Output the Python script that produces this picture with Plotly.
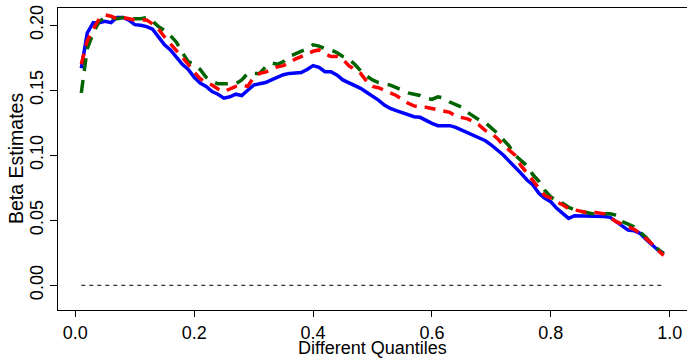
import plotly.graph_objects as go

quantiles = [round(0.01 * i, 2) for i in range(1, 100)]

blue = [0.167, 0.194, 0.202, 0.202, 0.203, 0.202, 0.206, 0.206, 0.204, 0.2005,
        0.200, 0.199, 0.197, 0.1915, 0.185, 0.181, 0.176, 0.170, 0.166, 0.160,
        0.1555, 0.153, 0.149, 0.147, 0.144, 0.145, 0.147, 0.146, 0.150, 0.154,
        0.155, 0.156, 0.158, 0.160, 0.162, 0.163, 0.163, 0.1636, 0.166, 0.169,
        0.1677, 0.1643, 0.1643, 0.1618, 0.158, 0.156, 0.154, 0.1515, 0.1485, 0.1456,
        0.1425, 0.1387, 0.136, 0.1343, 0.1328, 0.1318, 0.1297, 0.1292, 0.1266, 0.1246,
        0.1228, 0.1228, 0.1228, 0.1215, 0.1195, 0.1174, 0.1148, 0.113, 0.1112, 0.1079,
        0.1041, 0.1002, 0.0955, 0.0912, 0.0861, 0.081, 0.0772, 0.0708, 0.0669, 0.0643,
        0.0592, 0.0554, 0.0515, 0.0535, 0.0535, 0.0535, 0.0535, 0.0535, 0.053, 0.0523,
        0.049, 0.045, 0.0425, 0.042, 0.040, 0.0354, 0.031, 0.0272, 0.0246]

red = [0.170, 0.188, 0.197, 0.205, 0.208, 0.207, 0.205, 0.206, 0.205, 0.204,
       0.204, 0.204, 0.201, 0.197, 0.191, 0.186, 0.181, 0.175, 0.170, 0.164,
       0.159, 0.156, 0.154, 0.151, 0.149, 0.151, 0.153, 0.154, 0.153, 0.160,
       0.163, 0.164, 0.166, 0.168, 0.169, 0.171, 0.174, 0.176, 0.178, 0.180,
       0.181, 0.178, 0.176, 0.176, 0.174, 0.169, 0.166, 0.163, 0.157, 0.153,
       0.152, 0.150, 0.148, 0.146, 0.143, 0.140, 0.138, 0.137, 0.137, 0.136,
       0.135, 0.134, 0.133, 0.130, 0.129, 0.128, 0.126, 0.123, 0.119, 0.117,
       0.113, 0.108, 0.104, 0.100, 0.092, 0.086, 0.080, 0.074, 0.069, 0.067,
       0.064, 0.062, 0.059, 0.058, 0.057, 0.056, 0.0565, 0.056, 0.055, 0.052,
       0.049, 0.047, 0.045, 0.043, 0.040, 0.036, 0.032, 0.027, 0.023]

green = [0.148, 0.182, 0.194, 0.203, 0.206, 0.206, 0.205, 0.206, 0.205, 0.205,
         0.205, 0.206, 0.203, 0.199, 0.196, 0.192, 0.187, 0.179, 0.172, 0.170,
         0.166, 0.160, 0.157, 0.155, 0.155, 0.155, 0.155, 0.158, 0.163, 0.163,
         0.163, 0.168, 0.171, 0.170, 0.172, 0.176, 0.178, 0.180, 0.182, 0.185,
         0.184, 0.182, 0.181, 0.179, 0.176, 0.174, 0.170, 0.165, 0.161, 0.158,
         0.156, 0.155, 0.154, 0.152, 0.150, 0.148, 0.147, 0.146, 0.144, 0.143,
         0.145, 0.144, 0.141, 0.139, 0.137, 0.133, 0.130, 0.127, 0.125, 0.121,
         0.117, 0.112, 0.107, 0.100, 0.096, 0.092, 0.085, 0.080, 0.073, 0.068,
         0.065, 0.063, 0.060, 0.058, 0.057, 0.056, 0.055, 0.055, 0.055, 0.055,
         0.054, 0.049, 0.047, 0.045, 0.041, 0.037, 0.032, 0.028, 0.024]

zero_line = [0.0] * len(quantiles)

x_ticks = [0.0, 0.2, 0.4, 0.6, 0.8, 1.0]
x_tick_text = ["0.0", "0.2", "0.4", "0.6", "0.8", "1.0"]
y_ticks = [0.00, 0.05, 0.10, 0.15, 0.20]
y_tick_text = ["0.00", "0.05", "0.10", "0.15", "0.20"]
x_title = "Different Quantiles"
y_title = "Beta Estimates"

FONT = "Liberation Sans, Arial, Helvetica, sans-serif"
W, H = 687, 358
ML, MR, MT, MB = 58, 0, 8, 48
PW, PH = W - ML - MR, H - MT - MB

fig = go.Figure()
fig.add_trace(go.Scatter(x=quantiles, y=zero_line, mode="lines",
                         line=dict(color="black", width=1, dash="4px,4px"),
                         showlegend=False, hoverinfo="skip"))
fig.add_trace(go.Scatter(x=quantiles, y=blue, mode="lines",
                         line=dict(color="#0000FF", width=3.5),
                         showlegend=False))
fig.add_trace(go.Scatter(x=quantiles, y=green, mode="lines",
                         line=dict(color="#006400", width=3.5, dash="13px,9px"),
                         showlegend=False))
fig.add_trace(go.Scatter(x=quantiles, y=red, mode="lines",
                         line=dict(color="#FF0000", width=3.5, dash="11px,8px"),
                         showlegend=False))

fig.update_layout(
    width=W, height=H,
    margin=dict(l=ML, r=MR, t=MT, b=MB, autoexpand=False),
    paper_bgcolor="white", plot_bgcolor="white",
    font=dict(family=FONT, size=18, color="black"),
    xaxis=dict(range=[-0.0292, 1.0292], tickvals=x_ticks, ticktext=x_tick_text,
               ticks="outside", ticklen=6, tickwidth=1, tickcolor="black",
               showline=True, linecolor="black", linewidth=1, mirror=True,
               showgrid=False, zeroline=False, automargin=False),
    yaxis=dict(range=[-0.019, 0.2133], tickvals=y_ticks, ticktext=y_tick_text,
               ticks="outside", ticklen=7, tickwidth=1, tickcolor="black",
               tickangle=-90,
               showline=True, linecolor="black", linewidth=1, mirror=False,
               showgrid=False, zeroline=False, automargin=False),
    annotations=[
        dict(text=x_title, xref="paper", yref="paper",
             x=(372 - ML) / PW, y=-(348 - (MT + PH)) / PH,
             xanchor="center", yanchor="middle", showarrow=False,
             borderpad=0,
             font=dict(size=18, family=FONT)),
        dict(text=y_title, xref="paper", yref="paper",
             x=(16 - ML) / PW, y=0.5, textangle=-90,
             xanchor="center", yanchor="middle", showarrow=False,
             font=dict(size=19.5, family=FONT)),
    ],
)

fig.write_html("out.html")
